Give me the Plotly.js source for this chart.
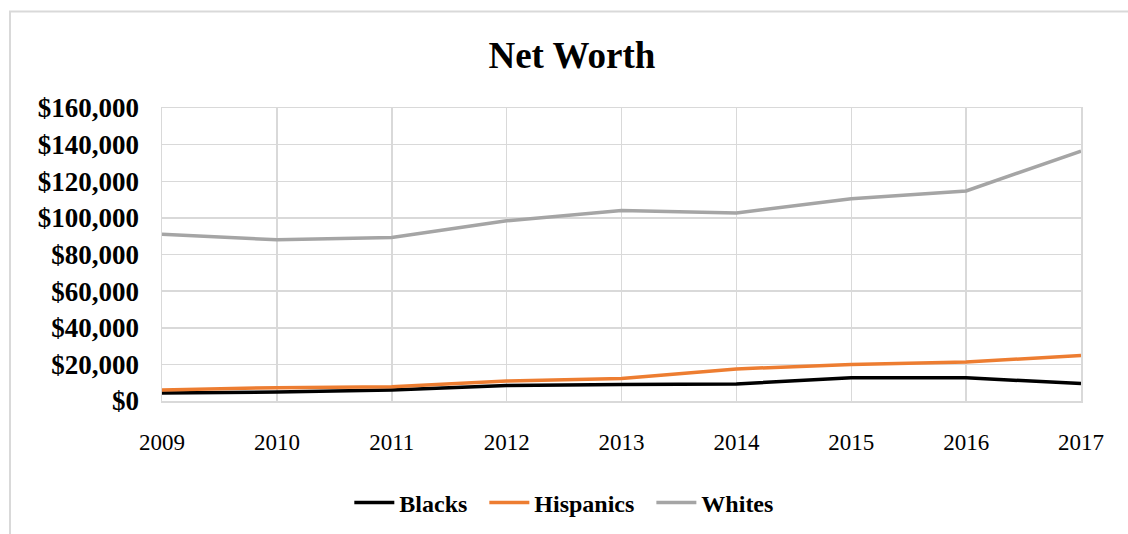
<!DOCTYPE html>
<html>
<head>
<meta charset="utf-8">
<script src="https://cdn.plot.ly/plotly-3.0.1.min.js"></script>
<style>html,body{margin:0;padding:0;background:#fff;}#chart{width:1128px;height:534px;}</style>
</head>
<body>
<div id="chart"></div>
<script>
const years = [2009, 2010, 2011, 2012, 2013, 2014, 2015, 2016, 2017];
const blacks = [4400, 4900, 6000, 8400, 9000, 9300, 12700, 12700, 9500];
const hispanics = [6000, 7300, 7800, 10900, 12300, 17500, 20000, 21300, 24900];
const whites = [91000, 88000, 89300, 98400, 104000, 102700, 110500, 114700, 136500];
const yTicks = [0, 20000, 40000, 60000, 80000, 100000, 120000, 140000, 160000];
const yTickText = ["$0", "$20,000", "$40,000", "$60,000", "$80,000", "$100,000", "$120,000", "$140,000", "$160,000"];

const font = "Liberation Serif, Times New Roman, serif";
const traces = [
  {x: years, y: blacks, name: "Blacks", mode: "lines", line: {color: "#000000", width: 3.5}},
  {x: years, y: hispanics, name: "Hispanics", mode: "lines", line: {color: "#ED7D31", width: 3.5}},
  {x: years, y: whites, name: "Whites", mode: "lines", line: {color: "#A5A5A5", width: 3.5}}
];
const layout = {
  width: 1128, height: 534,
  margin: {l: 162, r: 47, t: 108, b: 133},
  paper_bgcolor: "#ffffff", plot_bgcolor: "#ffffff",
  font: {family: font, color: "#000"},
  title: {text: "<b>Net Worth</b>", font: {family: font, size: 37, color: "#000"},
          xref: "container", x: 0.507, xanchor: "center", yref: "container", y: 1 - 55/534, yanchor: "middle"},
  xaxis: {range: [2009, 2017], tickvals: years, ticktext: years.map(String),
          showgrid: true, gridcolor: "#d9d9d9", gridwidth: 1.5,
          showline: true, linecolor: "#d9d9d9", linewidth: 1.5, mirror: true,
          zeroline: false, ticks: "", ticklabelstandoff: 20,
          tickfont: {family: font, size: 23, color: "#000"}},
  yaxis: {range: [0, 160000], tickvals: yTicks, ticktext: yTickText.map(t => "<b>" + t + "</b>"),
          showgrid: true, gridcolor: "#d9d9d9", gridwidth: 1.5,
          showline: true, linecolor: "#d9d9d9", linewidth: 1.5, mirror: true,
          zeroline: false, ticks: "", ticklabelstandoff: 16,
          tickfont: {family: font, size: 27, color: "#000"}},
  showlegend: true,
  legend: {orientation: "h", xref: "container", x: 0.5056, xanchor: "center",
           yref: "container", y: 1 - 503/534, yanchor: "middle",
           font: {family: font, size: 24, color: "#000"}, itemwidth: 40,
           traceorder: "normal"},
  shapes: [
    {type: "rect", xref: "paper", yref: "paper",
     x0: (10 - 162)/919, x1: 1.2, y0: -0.6, y1: (401 - 11.5)/293,
     line: {color: "#d9d9d9", width: 2}, layer: "below"}
  ]
};
traces.forEach(t => t.name = "<b>" + t.name + "</b>\u00a0\u00a0");
Plotly.newPlot("chart", traces, layout, {displayModeBar: false, staticPlot: true});
</script>
</body>
</html>
